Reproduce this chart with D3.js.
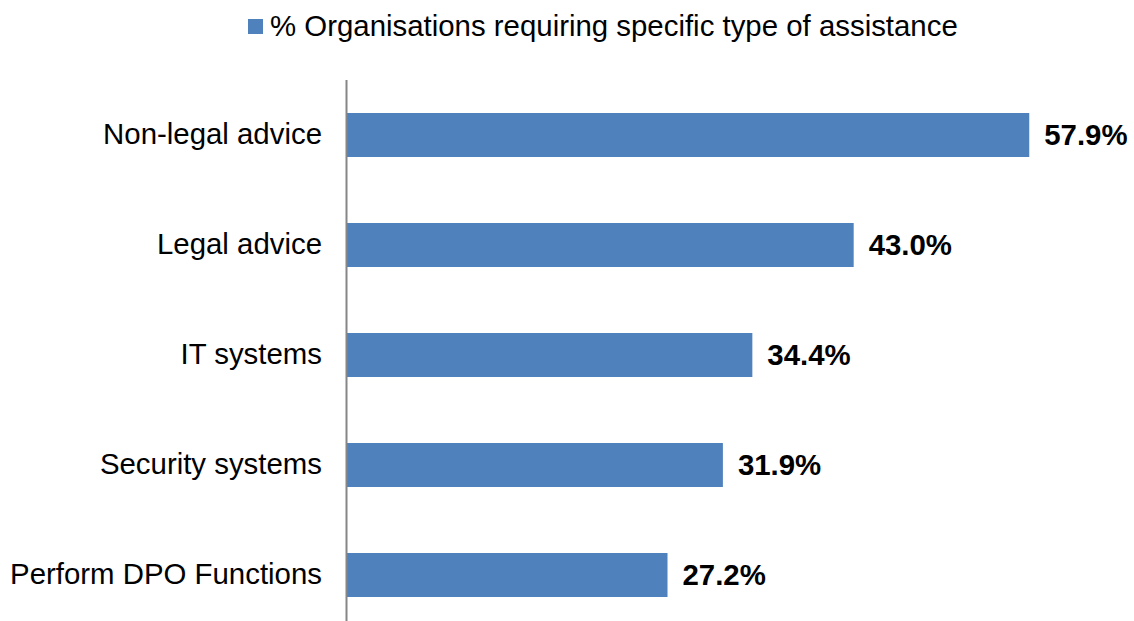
<!DOCTYPE html>
<html>
<head>
<meta charset="utf-8">
<script src="https://cdn.jsdelivr.net/npm/d3@7"></script>
<style>
    body { margin: 0; background: #fff; }
    svg { display: block; font-family: "Liberation Sans", Arial, sans-serif; }
</style>
</head>
<body>
<div id="chart"></div>
<script>
const categories = ['Non-legal advice', 'Legal advice', 'IT systems', 'Security systems', 'Perform DPO Functions'];
const values = [57.9, 43.0, 34.4, 31.9, 27.2];
const seriesName = '% Organisations requiring specific type of assistance';

document.addEventListener('DOMContentLoaded', () => {
    const width = 1134;
    const height = 621;
    const barColor = '#4F81BD';
    const fontSize = 29.4;

    const svg = d3.select('#chart').append('svg')
        .attr('width', width)
        .attr('height', height);

    const data = categories.map((c, i) => ({ name: c, value: values[i] }));

    // scales
    const x = d3.scaleLinear().domain([0, 60]).range([347, 1054]);
    const y = d3.scaleBand()
        .domain(categories)
        .range([80, 630])
        .paddingInner(0.6)
        .paddingOuter(0.3);

    // bars
    svg.selectAll('rect.bar')
        .data(data)
        .join('rect')
        .attr('class', 'bar')
        .attr('x', x(0))
        .attr('y', d => y(d.name))
        .attr('width', d => x(d.value) - x(0))
        .attr('height', y.bandwidth())
        .attr('fill', barColor);

    // category labels on the left
    const yAxis = d3.axisLeft(y).tickSize(0).tickPadding(25);
    const axisG = svg.append('g')
        .attr('transform', `translate(${x(0)},0)`)
        .call(yAxis);
    axisG.select('.domain').remove();
    axisG.selectAll('text')
        .attr('font-size', fontSize)
        .attr('fill', '#000')
        .attr('font-family', '"Liberation Sans", Arial, sans-serif');

    // vertical axis line
    svg.append('line')
        .attr('x1', x(0) - 0.5).attr('x2', x(0) - 0.5)
        .attr('y1', 80).attr('y2', height)
        .attr('stroke', '#868686')
        .attr('stroke-width', 2);

    // value labels
    svg.selectAll('text.val')
        .data(data)
        .join('text')
        .attr('class', 'val')
        .attr('x', d => x(d.value) + 15)
        .attr('y', d => y(d.name) + y.bandwidth() / 2)
        .attr('dy', '0.35em')
        .attr('font-size', fontSize)
        .attr('font-weight', 'bold')
        .text(d => d.value.toFixed(1) + '%');

    // legend
    const legend = svg.append('g');
    legend.append('rect')
        .attr('x', 248).attr('y', 19)
        .attr('width', 15).attr('height', 15)
        .attr('fill', barColor);
    legend.append('text')
        .attr('x', 270).attr('y', 36)
        .attr('font-size', fontSize)
        .text(seriesName);
});
</script>
</body>
</html>
